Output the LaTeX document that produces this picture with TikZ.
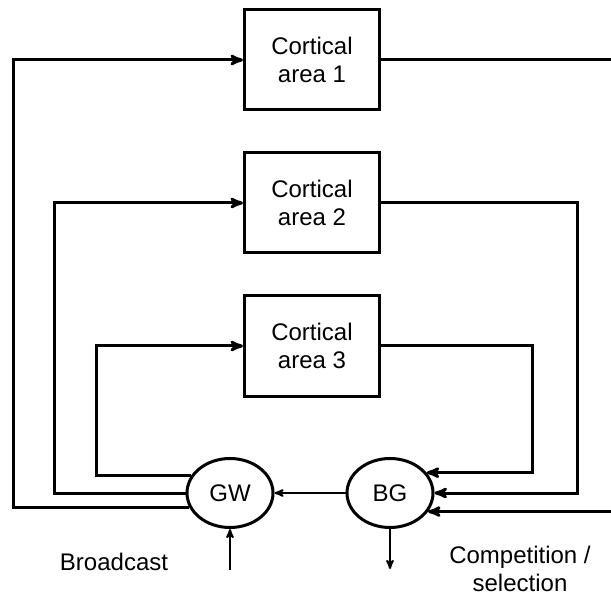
\documentclass[tikz,border=0pt]{standalone}
\usepackage{fontspec}
\setmainfont{Liberation Sans}
\usetikzlibrary{arrows,positioning,shapes.geometric}

\begin{document}
\begin{tikzpicture}[->,>=stealth',x=1pt,y=-1pt,line width=3pt,node distance=40pt,every node/.style={font=\fontsize{24}{28}\selectfont}, area node/.style={rectangle,draw,minimum width=135pt,minimum height=100pt,align=center}, loop node/.style={ellipse,draw,minimum width=86pt,minimum height=69pt,inner sep=0pt}, short arrow/.style={line width=2pt}]

  \path[use as bounding box,clip] (0,0) rectangle (611,596);

  \node[area node] (A1) at (312,60) {Cortical\\area 1};
  \node[area node] (A2) [below=of A1] {Cortical\\area 2};
  \node[area node] (A3) [below=of A2] {Cortical\\area 3};
  \node[loop node] (GW) at (230,493) {GW};
  \node[loop node] (BG) at (390,493) {BG};

  \node (broadcast) at (114,562) {Broadcast};
  \node[align=center,inner sep=0pt] (select) at (520,569) {Competition /\\selection};

  \coordinate (L1) at (13,60);
  \coordinate (L2) at (54,0);
  \coordinate (L3) at (96,0);
  \coordinate (R1) at (625,60);
  \coordinate (R2) at (577,0);
  \coordinate (R3) at (532,0);
  \coordinate (in) at (230,570);
  \coordinate (out) at (390,569);

  \draw (GW.199) -| (L1) -- (A1);
  \draw (GW.west) -| (L2 |- A2.west) -- (A2);
  \draw (GW.155) -| (L3 |- A3.west) -- (A3);

  \draw (A1) -- (R1) |- (BG.334);
  \draw (A2) -- (R2 |- A2.east) |- (BG.east);
  \draw (A3) -- (R3 |- A3.east) |- (BG.29);

  \path[->,short arrow]
    (BG) edge (GW)
    (in) edge (GW)
    (BG) edge (out);
\end{tikzpicture}
\end{document}
